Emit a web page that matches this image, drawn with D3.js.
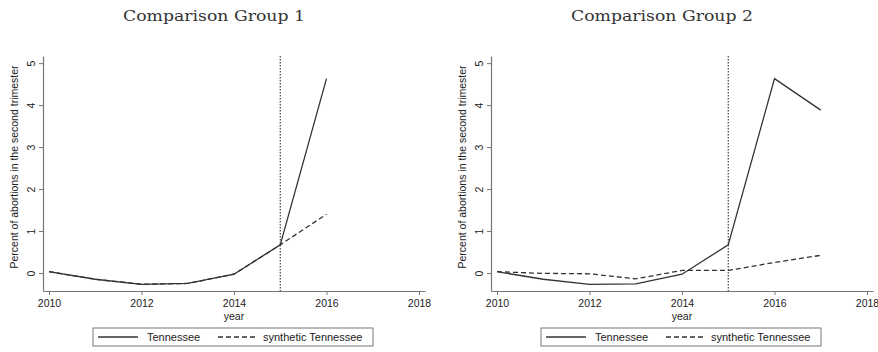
<!DOCTYPE html>
<html>
<head>
<meta charset="utf-8">
<script src="https://cdn.jsdelivr.net/npm/d3@7/dist/d3.min.js"></script>
<style>
  html, body { margin: 0; padding: 0; background: #fff; }
  svg { display: block; }
</style>
</head>
<body>
<svg id="chart" width="878" height="352"></svg>
<script>
// Years and tick labels
const years = [2010, 2011, 2012, 2013, 2014, 2015, 2016, 2017];
const xTicks = [2010, 2012, 2014, 2016, 2018];
const yTicks = [0, 1, 2, 3, 4, 5];
const treatmentYear = 2015;

// Comparison Group 1 (series through 2016)
const g1Years = [2010, 2011, 2012, 2013, 2014, 2015, 2016];
const g1Tennessee = [0.03, -0.15, -0.27, -0.25, -0.03, 0.67, 4.63];
const g1Synthetic = [0.03, -0.15, -0.27, -0.25, -0.03, 0.67, 1.40];

// Comparison Group 2 (series through 2017)
const g2Years = years;
const g2Tennessee = [0.03, -0.15, -0.27, -0.26, -0.03, 0.67, 4.63, 3.88];
const g2Synthetic = [0.03, -0.01, -0.02, -0.14, 0.06, 0.06, 0.25, 0.42];

const titles = ["Comparison Group 1", "Comparison Group 2"];
const yLabel = "Percent of abortions in the second trimester";
const xLabel = "year";
const legendLabels = ["Tennessee", "synthetic Tennessee"];

const svg = d3.select("#chart");
const lineColor = "#333";
const axisColor = "#777";
const sans = "'Liberation Sans', Arial, sans-serif";

function panel(offsetX, title, yrs, tn, syn) {
  const g = svg.append("g").attr("transform", `translate(${offsetX},0)`);
  const x = d3.scaleLinear().domain([2009.87, 2018.13]).range([43, 425]);
  const y = d3.scaleLinear().domain([-0.43, 5.17]).range([291, 56]);

  // title
  g.append("text")
    .attr("x", 214).attr("y", 21)
    .attr("text-anchor", "middle")
    .attr("font-family", "'DejaVu Serif', serif")
    .attr("font-size", 15)
    .attr("textLength", 182).attr("lengthAdjust", "spacingAndGlyphs")
    .attr("fill", "#333")
    .text(title);

  // x axis
  const xAxis = d3.axisBottom(x).tickValues(xTicks).tickFormat(d3.format("d"))
    .tickSize(4).tickSizeOuter(0).tickPadding(5);
  const gx = g.append("g").attr("transform", `translate(0,291)`).call(xAxis);
  // y axis
  const yAxis = d3.axisLeft(y).tickValues(yTicks).tickFormat(d3.format("d"))
    .tickSize(4).tickSizeOuter(0);
  const gy = g.append("g").attr("transform", `translate(43,0)`).call(yAxis);

  [gx, gy].forEach(a => {
    a.select(".domain").attr("stroke", axisColor).attr("stroke-width", 1.2);
    a.selectAll(".tick line").attr("stroke", axisColor);
    a.selectAll("text").attr("font-family", sans)
      .attr("font-size", 10.5).attr("fill", "#222");
  });
  // vertical y tick labels
  gy.selectAll(".tick text")
    .attr("text-anchor", "middle")
    .attr("x", 0).attr("dy", null).attr("y", 0)
    .attr("transform", "translate(-8,0) rotate(-90)");

  // axis titles
  g.append("text")
    .attr("transform", "translate(18,167) rotate(-90)")
    .attr("text-anchor", "middle")
    .attr("font-family", sans)
    .attr("font-size", 10.5).attr("fill", "#222")
    .text(yLabel);
  g.append("text")
    .attr("x", 234).attr("y", 320)
    .attr("text-anchor", "middle")
    .attr("font-family", sans)
    .attr("font-size", 10.5).attr("fill", "#222")
    .text(xLabel);

  // treatment year marker
  g.append("line")
    .attr("x1", x(treatmentYear)).attr("x2", x(treatmentYear))
    .attr("y1", 56).attr("y2", 291)
    .attr("stroke", lineColor).attr("stroke-width", 1.1)
    .attr("stroke-dasharray", "1.5,1.5");

  const line = d3.line().x(d => x(d[0])).y(d => y(d[1]));
  g.append("path")
    .datum(yrs.map((yr, i) => [yr, syn[i]]))
    .attr("d", line).attr("fill", "none")
    .attr("stroke", lineColor).attr("stroke-width", 1.3)
    .attr("stroke-dasharray", "5,3");
  g.append("path")
    .datum(yrs.map((yr, i) => [yr, tn[i]]))
    .attr("d", line).attr("fill", "none")
    .attr("stroke", lineColor).attr("stroke-width", 1.3);

  // legend
  const lg = g.append("g").attr("transform", "translate(93,328)");
  lg.append("rect").attr("width", 280).attr("height", 18)
    .attr("fill", "#fff").attr("stroke", axisColor).attr("stroke-width", 1);
  lg.append("line").attr("x1", 5).attr("x2", 45).attr("y1", 9).attr("y2", 9)
    .attr("stroke", lineColor).attr("stroke-width", 1.3);
  lg.append("line").attr("x1", 125).attr("x2", 163).attr("y1", 9).attr("y2", 9)
    .attr("stroke", lineColor).attr("stroke-width", 1.3).attr("stroke-dasharray", "5,3");
  lg.selectAll("text.lab").data(legendLabels).enter().append("text")
    .attr("class", "lab")
    .attr("x", (d, i) => i === 0 ? 54 : 170).attr("y", 13)
    .attr("font-family", sans)
    .attr("font-size", 11).attr("fill", "#222")
    .text(d => d);
}

panel(0, titles[0], g1Years, g1Tennessee, g1Synthetic);
panel(448, titles[1], g2Years, g2Tennessee, g2Synthetic);
</script>
</body>
</html>
